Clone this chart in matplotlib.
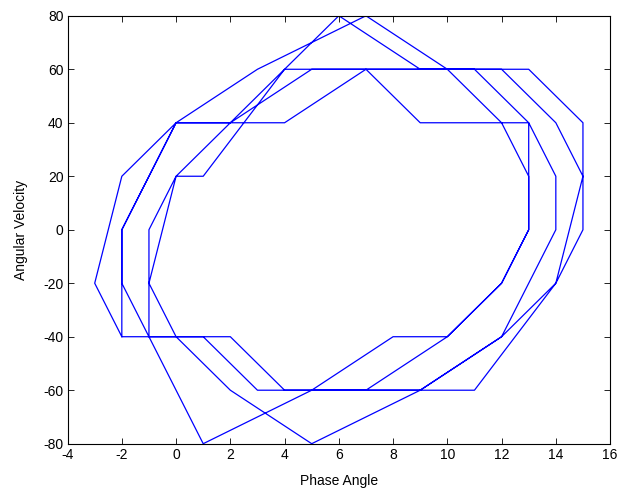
import numpy as np
import matplotlib
matplotlib.use('Agg')
import matplotlib.pyplot as plt

plt.rcParams['font.family'] = ['Liberation Sans', 'DejaVu Sans']
plt.rcParams['axes.unicode_minus'] = False

# trajectory in the phase plane (phase angle, angular velocity)
phase = [-2, -3, -2, 0, 2,
         5, 8, 11, 13, 13, 12, 10, 7, 4, 2, 0, -1, 0, 2,
         6, 9, 12, 14, 15, 14, 12, 9, 5, 2, 0, -2,
         -2, 0, 3, 7, 10, 12, 13, 13, 12, 10, 8, 5, 1, -1, -2,
         -2, 0, 2, 4, 7, 9, 11, 13, 14, 14, 12, 9, 6, 3, 1, -1,
         -1, 0, 1, 4, 7, 10, 13, 15, 15, 14, 11, 8, 5]
velocity = [-40, -20, 20, 40, 40,
            60, 60, 60, 40, 0, -20, -40, -60, -60, -40, -40, -20, 20, 40,
            80, 60, 60, 40, 20, -20, -40, -60, -80, -60, -40, -40,
            0, 40, 60, 80, 60, 40, 20, 0, -20, -40, -40, -60, -80, -40, -20,
            0, 40, 40, 40, 60, 40, 40, 40, 20, 0, -40, -60, -60, -60, -40, -40,
            0, 20, 20, 60, 60, 60, 60, 40, 0, -20, -60, -60, -60]

xticks = np.arange(-4, 17, 2)
yticks = np.arange(-80, 81, 20)

fig = plt.figure(figsize=(6.2, 4.93), dpi=100)
ax = fig.add_axes([0.109, 0.100, 0.875, 0.868])
ax.plot(phase, velocity, color='#0000ff', linewidth=0.9)

ax.set_xlim(-4, 16)
ax.set_ylim(-80, 80)
ax.set_xticks(xticks)
ax.set_yticks(yticks)
ax.tick_params(direction='in', top=True, right=True, labelsize=10,
               length=4, width=0.6, pad=3)
for sp in ax.spines.values():
    sp.set_linewidth(0.8)
ax.set_xlabel('Phase Angle', fontsize=10, labelpad=9)
ax.set_ylabel('Angular Velocity', fontsize=10, labelpad=11)

fig.savefig('out.png', dpi=100)
